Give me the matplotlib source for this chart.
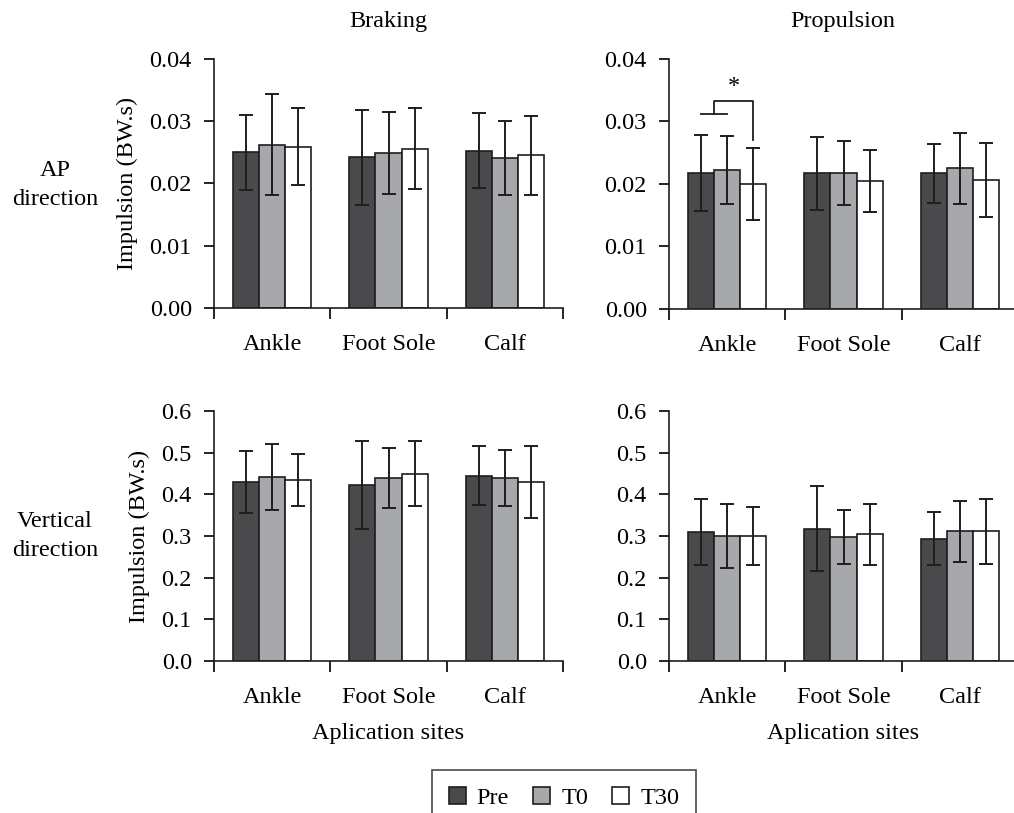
"""Impulse by application site: braking/propulsion, AP/vertical."""

import matplotlib.pyplot as plt
from matplotlib import font_manager
import numpy as np

available = sorted({f.name for f in font_manager.fontManager.ttflist})
serif = [n for n in ("Liberation Serif", "Times New Roman", "Nimbus Roman",
                     "TeX Gyre Termes", "FreeSerif", "Noto Serif", "DejaVu Serif")
         if n in available]
plt.rcParams["font.family"] = serif[:1] + ["DejaVu Serif"]

sites = ["Ankle", "Foot Sole", "Calf"]
conditions = ["Pre", "T0", "T30"]
colors = ["#4a4a4d", "#a7a8ab", "#ffffff"]

# Braking, AP direction (mean, SD) -- rows = conditions, cols = sites
brake_ap_mean = [[0.0250, 0.0242, 0.0253],
                 [0.0262, 0.0249, 0.0241],
                 [0.0259, 0.0256, 0.0245]]
brake_ap_sd = [[0.0060, 0.0076, 0.0061],
               [0.0081, 0.0066, 0.0059],
               [0.0062, 0.0065, 0.0063]]

# Propulsion, AP direction
prop_ap_mean = [[0.0218, 0.0217, 0.0217],
                [0.0222, 0.0217, 0.0225],
                [0.0200, 0.0205, 0.0206]]
prop_ap_sd = [[0.0061, 0.0058, 0.0047],
              [0.0054, 0.0051, 0.0057],
              [0.0057, 0.0050, 0.0059]]

# Braking, vertical direction
brake_v_mean = [[0.430, 0.423, 0.445],
                [0.442, 0.439, 0.439],
                [0.435, 0.450, 0.430]]
brake_v_sd = [[0.074, 0.105, 0.071],
              [0.079, 0.072, 0.068],
              [0.062, 0.077, 0.086]]

# Propulsion, vertical direction
prop_v_mean = [[0.310, 0.318, 0.294],
               [0.300, 0.298, 0.311],
               [0.300, 0.304, 0.311]]
prop_v_sd = [[0.079, 0.101, 0.064],
             [0.077, 0.065, 0.074],
             [0.069, 0.073, 0.079]]

W, H = 1014, 813
FS = 17.5
fig = plt.figure(figsize=(W / 100, H / 100), dpi=100)


def px_axes(left, right, top, bottom):
    return fig.add_axes([left / W, 1 - bottom / H, (right - left) / W, (bottom - top) / H])


panels = [
    (px_axes(214, 563, 59, 308), brake_ap_mean, brake_ap_sd, 0.04, 0.01, "{:.2f}"),
    (px_axes(669, 1018, 59, 309), prop_ap_mean, prop_ap_sd, 0.04, 0.01, "{:.2f}"),
    (px_axes(214, 563, 411, 661), brake_v_mean, brake_v_sd, 0.6, 0.1, "{:.1f}"),
    (px_axes(669, 1018, 411, 661), prop_v_mean, prop_v_sd, 0.6, 0.1, "{:.1f}"),
]

bw = 0.225
x = np.arange(len(sites)) + 0.5
bars = []
for ax, means, sds, ymax, step, fmt in panels:
    for i, cond in enumerate(conditions):
        b = ax.bar(x + (i - 1) * bw, means[i], bw, yerr=sds[i], color=colors[i],
                   edgecolor="#1e1e1e", linewidth=1.2, label=cond,
                   error_kw=dict(ecolor="#1e1e1e", elinewidth=1.4, capsize=5,
                                 capthick=1.4))
        if ax is panels[0][0]:
            bars.append(b)
    ax.set_xlim(0, 3)
    ax.set_ylim(0, ymax)
    yt = np.arange(0, ymax + step / 2, step)
    ax.set_yticks(yt)
    ax.set_yticklabels([fmt.format(v) for v in yt])
    ax.set_xticks([0, 1, 2, 3])
    ax.set_xticklabels([])
    ax.set_xticks(x, minor=True)
    ax.set_xticklabels(sites, minor=True)
    ax.tick_params(axis="x", which="minor", length=0, pad=19, labelsize=FS)
    ax.tick_params(axis="x", which="major", length=8, width=1.2, direction="out")
    ax.tick_params(axis="y", length=7, width=1.2, direction="out", pad=9,
                   labelsize=FS)
    for s in ("top", "right"):
        ax.spines[s].set_visible(False)
    for s in ("left", "bottom"):
        ax.spines[s].set_linewidth(1.2)
        ax.spines[s].set_color("#1e1e1e")

# y labels on left column
for ax in (panels[0][0], panels[2][0]):
    ax.set_ylabel("Impulsion (BW.s)", fontsize=FS, labelpad=8)

# significance bracket (Propulsion AP, Ankle: Pre/T0 vs T30)
ax = panels[1][0]
xp, x0, x30 = x[0] - bw, x[0], x[0] + bw
ax.plot([xp, x0], [0.0312, 0.0312], color="#1e1e1e", lw=1.3)
ax.plot([(xp + x0) / 2, (xp + x0) / 2, x30, x30], [0.0312, 0.0333, 0.0333, 0.0270],
        color="#1e1e1e", lw=1.3)
ax.text(((xp + x0) / 2 + x30) / 2, 0.0339, "*", ha="center", va="bottom", fontsize=FS)

# titles and labels
fig.text(388 / W, 1 - 22 / H, "Braking", ha="center", va="center", fontsize=FS)
fig.text(843 / W, 1 - 22 / H, "Propulsion", ha="center", va="center", fontsize=FS)
fig.text(388 / W, 1 - 733 / H, "Aplication sites", ha="center", va="center", fontsize=FS)
fig.text(843 / W, 1 - 733 / H, "Aplication sites", ha="center", va="center", fontsize=FS)
fig.text(55 / W, 1 - 185 / H, "AP\ndirection", ha="center", va="center",
         fontsize=FS, linespacing=1.45)
fig.text(55 / W, 1 - 536 / H, "Vertical\ndirection", ha="center", va="center",
         fontsize=FS, linespacing=1.45)

leg = fig.legend(bars, conditions, loc="upper center", bbox_to_anchor=(564 / W, 1 - 770 / H),
                 ncol=3, frameon=True, fancybox=False, fontsize=FS,
                 handlelength=0.7, handleheight=0.7, handletextpad=0.45,
                 columnspacing=1.0, borderpad=0.7, borderaxespad=0)
leg.get_frame().set_edgecolor("#1e1e1e")
leg.get_frame().set_linewidth(1.2)

fig.savefig("out.png", dpi=100)
